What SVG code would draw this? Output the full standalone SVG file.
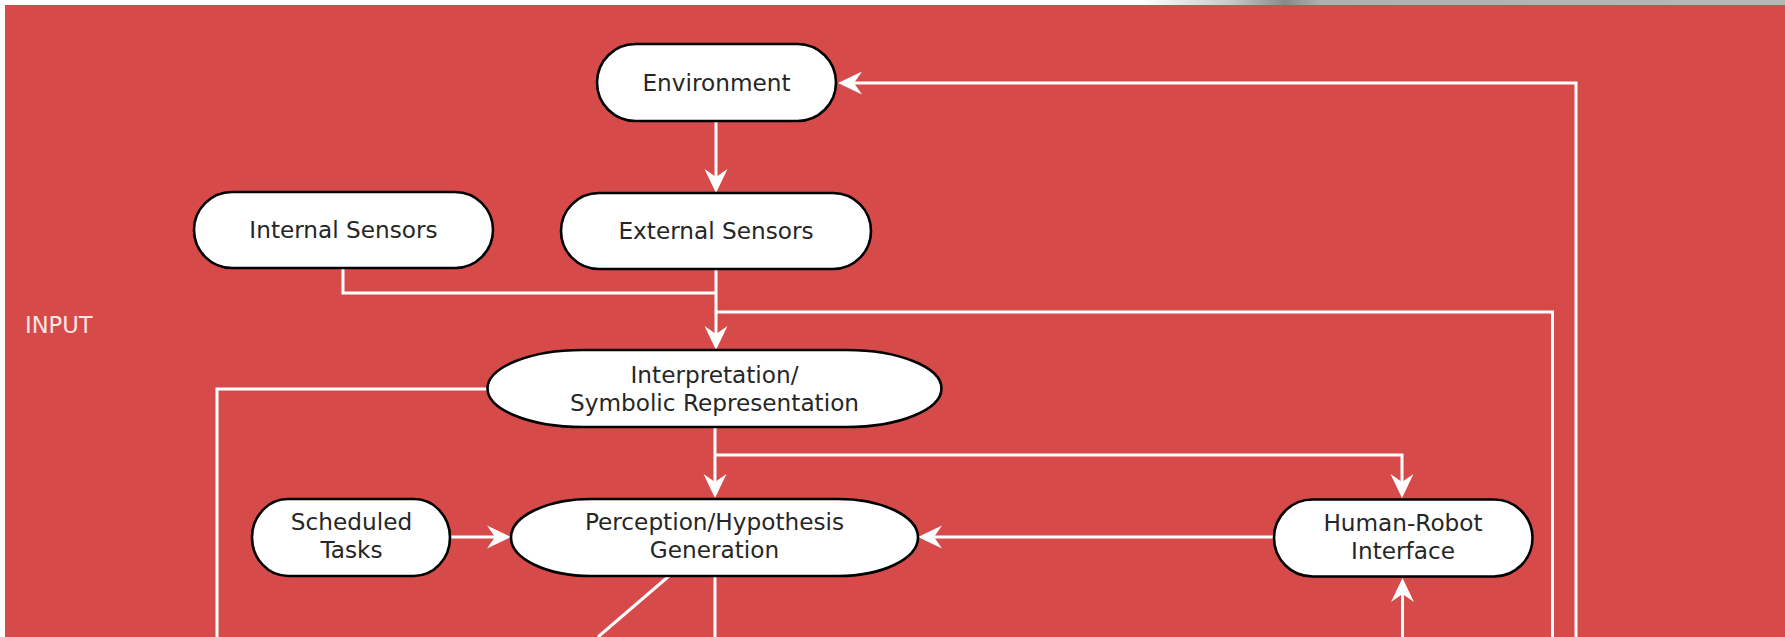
<svg xmlns="http://www.w3.org/2000/svg" width="1785" height="637" viewBox="0 0 1785 637">
<style>
.node{fill:#fff;stroke:#000;stroke-width:2.6}
.lbl{font-family:"DejaVu Sans","Liberation Sans",sans-serif;font-size:23.2px;fill:#262626;text-anchor:middle}
.conn{fill:none;stroke:#fff;stroke-width:3}
.zone{font-family:"DejaVu Sans","Liberation Sans",sans-serif;font-size:22.6px;fill:#fbe4e4}
</style>
<defs>
<linearGradient id="topbar" gradientUnits="userSpaceOnUse" x1="0" y1="0" x2="1785" y2="0">
<stop offset="0" stop-color="#ffffff"/>
<stop offset="0.64" stop-color="#ffffff"/>
<stop offset="0.69" stop-color="#c8c8c8"/>
<stop offset="0.72" stop-color="#8a8a8a"/>
<stop offset="0.74" stop-color="#b0b0b0"/>
<stop offset="1" stop-color="#b8b8b8"/>
</linearGradient>
<marker id="arr" viewBox="-18 -13 28 26" refX="0" refY="0" markerWidth="28" markerHeight="26" markerUnits="userSpaceOnUse" orient="auto">
<path d="M8,0 L-16,-11.5 L-8,0 L-16,11.5 Z" fill="#fff"/>
</marker>
</defs>
<rect x="0" y="0" width="1785" height="637" fill="#ffffff"/>
<rect x="0" y="0" width="1785" height="5" fill="url(#topbar)"/>
<rect x="5" y="5" width="1780" height="632" fill="#d64b4a"/>
<text class="zone" x="25" y="333">INPUT</text>

<g id="connectors">
<path class="conn" d="M716,121 V185" marker-end="url(#arr)"/>
<path class="conn" d="M343,268 V293 H716"/>
<path class="conn" d="M716,269 V342" marker-end="url(#arr)"/>
<path class="conn" d="M716,312 H1552.5 V637"/>
<path class="conn" d="M1576,637 V83 H846" marker-end="url(#arr)"/>
<path class="conn" d="M487,389 H217 V637"/>
<path class="conn" d="M715,427 V490" marker-end="url(#arr)"/>
<path class="conn" d="M715,455 H1402 V490" marker-end="url(#arr)"/>
<path class="conn" d="M450,537 H503" marker-end="url(#arr)"/>
<path class="conn" d="M1274,537 H926" marker-end="url(#arr)"/>
<path class="conn" d="M1402.5,637 V586" marker-end="url(#arr)"/>
<path class="conn" d="M715,576 V637"/>
<path class="conn" d="M669,576 L598,637"/>
</g>

<g id="environment">
<rect class="node" x="597" y="44" width="239" height="77" rx="38.5" ry="38.5"/>
<text class="lbl" x="716.5" y="91">Environment</text>
</g>
<g id="internal-sensors">
<rect class="node" x="194" y="192" width="299" height="76" rx="38" ry="38"/>
<text class="lbl" x="343.5" y="238">Internal Sensors</text>
</g>
<g id="external-sensors">
<rect class="node" x="561" y="193" width="310" height="76" rx="38" ry="38"/>
<text class="lbl" x="716" y="239">External Sensors</text>
</g>
<g id="interpretation">
<rect class="node" x="487.5" y="350" width="454" height="77" rx="95" ry="38.5"/>
<text class="lbl" x="714.5" y="383">Interpretation/</text>
<text class="lbl" x="714.5" y="411">Symbolic Representation</text>
</g>
<g id="scheduled-tasks">
<rect class="node" x="252" y="499" width="198" height="77" rx="36" ry="38.5"/>
<text class="lbl" x="351.5" y="529.5">Scheduled</text>
<text class="lbl" x="351.5" y="558">Tasks</text>
</g>
<g id="perception">
<rect class="node" x="511" y="499" width="407" height="77" rx="80" ry="38.5"/>
<text class="lbl" x="714.5" y="529.5">Perception/Hypothesis</text>
<text class="lbl" x="714.5" y="558">Generation</text>
</g>
<g id="human-robot-interface">
<rect class="node" x="1274" y="499.5" width="258.5" height="77" rx="38.5" ry="38.5"/>
<text class="lbl" x="1403" y="530.5">Human-Robot</text>
<text class="lbl" x="1403" y="559">Interface</text>
</g>
</svg>
